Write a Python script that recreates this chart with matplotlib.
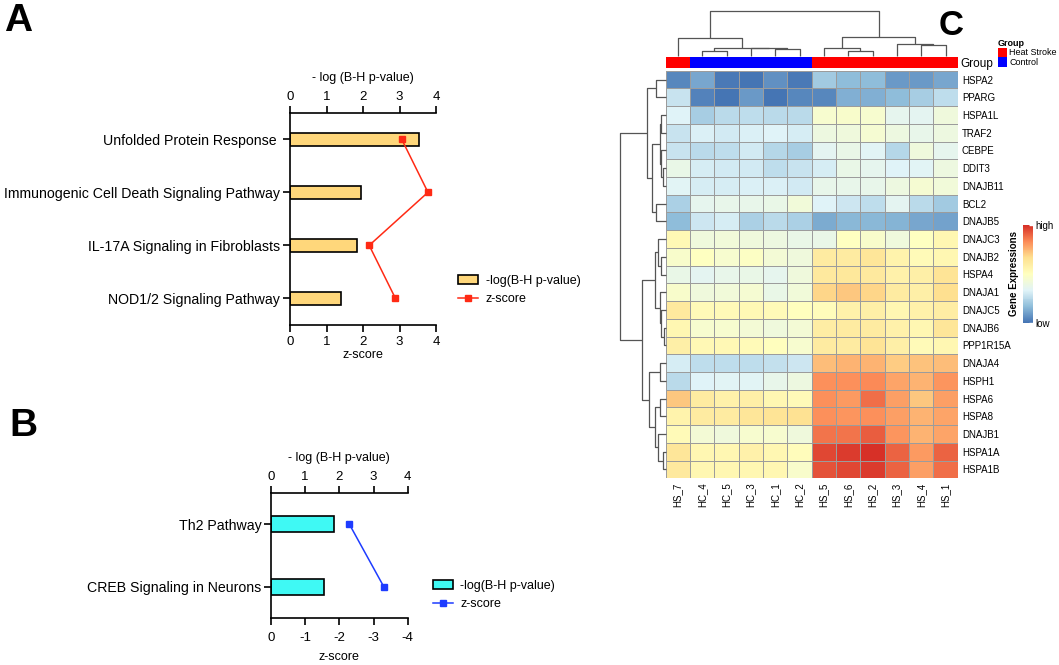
import matplotlib
matplotlib.use('Agg')
import matplotlib.pyplot as plt
import numpy as np
from matplotlib.colors import LinearSegmentedColormap, ListedColormap
from matplotlib.patches import Patch
from matplotlib.lines import Line2D

plt.rcParams['font.family'] = ['Liberation Sans', 'DejaVu Sans']
plt.rcParams['axes.unicode_minus'] = False

# ---------------- data: panel A ----------------
a_pathways = ['Unfolded Protein Response ', 'Immunogenic Cell Death Signaling Pathway',
              'IL-17A Signaling in Fibroblasts', 'NOD1/2 Signaling Pathway']
a_neglogp = [3.53, 1.95, 1.83, 1.39]
a_zscore = [3.06, 3.78, 2.17, 2.89]

# ---------------- data: panel B ----------------
b_pathways = ['Th2 Pathway', 'CREB Signaling in Neurons']
b_neglogp = [1.83, 1.54]
b_zscore = [-2.29, -3.30]

# ---------------- data: panel C ----------------
samples = ['HS_7', 'HC_4', 'HC_5', 'HC_3', 'HC_1', 'HC_2',
           'HS_5', 'HS_6', 'HS_2', 'HS_3', 'HS_4', 'HS_1']
sample_group = ['Heat Stroke', 'Control', 'Control', 'Control', 'Control', 'Control',
                'Heat Stroke', 'Heat Stroke', 'Heat Stroke', 'Heat Stroke', 'Heat Stroke', 'Heat Stroke']
genes = ['HSPA2', 'PPARG', 'HSPA1L', 'TRAF2', 'CEBPE', 'DDIT3', 'DNAJB11', 'BCL2', 'DNAJB5',
         'DNAJC3', 'DNAJB2', 'HSPA4', 'DNAJA1', 'DNAJC5', 'DNAJB6', 'PPP1R15A', 'DNAJA4',
         'HSPH1', 'HSPA6', 'HSPA8', 'DNAJB1', 'HSPA1A', 'HSPA1B']
expr = [
    [-2.7, -2.3, -2.9, -3.0, -2.6, -2.9, -1.8, -2.0, -2.0, -2.5, -2.5, -2.3],
    [-1.3, -2.8, -3.0, -2.5, -3.0, -2.7, -2.7, -2.2, -2.2, -2.0, -1.7, -1.4],
    [-1.0, -1.7, -1.5, -1.4, -1.5, -1.45, -0.3, -0.2, -0.3, -0.8, -0.9, -0.5],
    [-1.3, -1.05, -1.2, -1.05, -1.0, -1.1, -0.6, -0.5, -0.35, -0.6, -0.75, -0.6],
    [-1.3, -1.5, -1.4, -1.2, -1.55, -1.7, -0.9, -0.7, -0.95, -1.55, -0.5, -0.8],
    [-0.7, -1.1, -1.15, -1.2, -1.4, -1.3, -1.1, -0.7, -0.8, -1.0, -0.95, -0.6],
    [-0.95, -1.1, -1.1, -1.05, -1.05, -1.15, -0.75, -0.75, -0.75, -0.6, -0.35, -0.45],
    [-1.65, -0.8, -0.75, -0.75, -0.7, -0.45, -1.0, -1.25, -1.4, -0.9, -1.5, -1.8],
    [-2.0, -1.25, -1.1, -1.65, -1.45, -1.65, -2.25, -2.1, -2.05, -2.15, -2.3, -2.35],
    [0.2, -0.5, -0.45, -0.5, -0.6, -0.7, -0.7, -0.05, -0.2, -0.5, -0.05, 0.25],
    [-0.2, -0.05, -0.3, -0.1, -0.4, -0.5, 0.6, 0.6, 0.8, 0.4, 0.15, 0.3],
    [-0.7, -0.85, -0.75, -0.7, -0.8, -0.5, 0.7, 0.75, 0.7, 0.45, 0.5, 0.85],
    [-0.2, -0.5, -0.45, -0.35, -0.7, -0.45, 1.1, 1.3, 1.1, 0.6, 0.5, 1.0],
    [0.7, 0.15, 0.15, 0.2, 0.15, 0.05, 0.1, 0.45, 0.5, 0.25, 0.45, 0.55],
    [0.3, -0.3, -0.3, -0.4, -0.5, -0.4, 0.55, 0.65, 0.6, 0.45, 0.3, 0.8],
    [0.5, 0.2, 0.2, 0.15, 0.05, -0.3, 0.65, 0.65, 0.85, 0.5, 0.15, 0.3],
    [-1.1, -1.4, -1.4, -1.4, -1.35, -1.25, 1.4, 1.5, 1.5, 1.2, 1.35, 1.4],
    [-1.45, -1.0, -0.95, -0.95, -0.75, -0.6, 1.95, 1.95, 2.0, 1.7, 1.5, 1.9],
    [1.3, 0.6, 0.45, 0.5, 0.3, 0.15, 1.95, 1.85, 2.3, 1.75, 1.3, 1.75],
    [0.4, 0.65, 0.65, 0.8, 0.85, 0.9, 1.95, 1.9, 1.95, 1.75, 1.5, 1.7],
    [0.15, -0.4, -0.5, -0.3, -0.3, -0.5, 2.25, 2.25, 2.5, 1.9, 1.55, 1.7],
    [0.8, 0.3, 0.3, 0.45, 0.3, 0.1, 2.75, 2.85, 3.0, 2.45, 1.8, 2.4],
    [0.7, 0.25, 0.25, 0.25, 0.3, -0.2, 2.6, 2.75, 2.85, 2.4, 1.75, 2.3],
]
# hierarchical clustering merges: (child, child, distance); ints refer to earlier merges
col_merges = [('HC_4', 'HC_5', 1.5), ('HC_1', 'HC_2', 1.9), ('HC_3', 1, 2.2), (0, 2, 2.4),
              ('HS_7', 3, 5.4), ('HS_6', 'HS_2', 1.4), ('HS_5', 5, 2.4), ('HS_4', 'HS_1', 3.2),
              ('HS_3', 7, 3.4), (6, 8, 5.5), (4, 9, 13.4)]
row_merges = [('HSPA2', 'PPARG', 2.8), ('HSPA1L', 'TRAF2', 1.3), ('DDIT3', 'DNAJB11', 0.8),
              ('CEBPE', 2, 1.4), (1, 3, 1.8), ('BCL2', 'DNAJB5', 2.8), (4, 5, 4.1), (0, 6, 5.6),
              ('DNAJB2', 'HSPA4', 1.3), ('DNAJC3', 8, 2.3), ('DNAJB6', 'PPP1R15A', 0.6),
              ('DNAJC5', 10, 1.4), ('DNAJA1', 11, 1.6), (9, 12, 3.1), ('DNAJA4', 'HSPH1', 1.6),
              ('HSPA6', 'HSPA8', 1.6), ('HSPA1A', 'HSPA1B', 0.9), ('DNAJB1', 16, 2.4),
              (15, 17, 3.3), (14, 18, 5.1), (13, 19, 7.1), (7, 20, 13.6)]

W, H = 1059, 665
fig = plt.figure(figsize=(W / 100, H / 100), dpi=100)


def ax_px(l, t, r, b, **kw):
    return fig.add_axes([l / W, 1 - b / H, (r - l) / W, (b - t) / H], **kw)


def pathway_panel(rect, cats, logp, z, bar_color, line_color, zlim, legend_anchor, zpad, zlabelpad):
    ax = ax_px(*rect)
    ax2 = ax.twiny()
    y = np.arange(len(cats))
    ax.barh(y, logp, height=0.25, color=bar_color, edgecolor='black', linewidth=1.2, zorder=2)
    ax.set_ylim(len(cats) - 0.5, -0.5)
    ax.set_xlim(0, 4)
    ax.set_yticks(y)
    ax.set_yticklabels(cats)
    ax.xaxis.set_ticks_position('top')
    ax.xaxis.set_label_position('top')
    ax.set_xticks(range(5))
    ax.set_xlabel('- log (B-H p-value)', fontsize=9, labelpad=7)
    for s in ['right', 'bottom']:
        ax.spines[s].set_visible(False)
    for s in ['top', 'left']:
        ax.spines[s].set_linewidth(1.2)
    ax.tick_params(axis='x', width=1.2, length=5, labelsize=9.5, pad=2)
    ax.tick_params(axis='y', width=1.2, length=5, labelsize=10.2, pad=2)

    ax2.set_xlim(*zlim)
    ax2.plot(z, y, marker='s', color=line_color, ms=4.5, lw=1.1, zorder=3)
    ax2.xaxis.set_ticks_position('bottom')
    ax2.xaxis.set_label_position('bottom')
    ax2.set_xticks(np.linspace(zlim[0], zlim[1], 5))
    ax2.set_xlabel('z-score', fontsize=9, labelpad=zlabelpad)
    for s in ['right', 'top', 'left']:
        ax2.spines[s].set_visible(False)
    ax2.spines['bottom'].set_linewidth(1.2)
    ax2.tick_params(axis='x', width=1.2, length=5, labelsize=9.5, pad=zpad)
    handles = [Patch(facecolor=bar_color, edgecolor='black', linewidth=1.2),
               Line2D([0], [0], color=line_color, marker='s', ms=4.5, lw=1.1)]
    fig.legend(handles, ['-log(B-H p-value)', 'z-score'], loc='center left',
               bbox_to_anchor=(legend_anchor[0] / W, 1 - legend_anchor[1] / H), frameon=False,
               fontsize=9, handlelength=1.6, handletextpad=0.6, labelspacing=0.5,
               borderpad=0, borderaxespad=0)
    return ax


pathway_panel((290, 112.7, 436, 325), a_pathways, a_neglogp, a_zscore, '#FFD77B', '#FF2A14',
              (0, 4), (458, 290), 3, 1)
pathway_panel((271, 492.7, 407.7, 618), b_pathways, b_neglogp, b_zscore, '#3FF9F4', '#1E3CFF',
              (0, -4), (433, 595), 5, 5)

fig.text(4 / W, 1 - 31 / H, 'A', fontsize=28, weight='bold', va='baseline', ha='left')
fig.text(9 / W, 1 - 436 / H, 'B', fontsize=28, weight='bold', va='baseline', ha='left')
fig.text(939 / W, 1 - 35 / H, 'C', fontsize=25, weight='bold', va='baseline', ha='left')

# ---------------- heatmap ----------------
pheat_cols = ['#4575B4', '#91BFDB', '#E0F3F8', '#FFFFBF', '#FEE090', '#FC8D59', '#D73027']
cmap = LinearSegmentedColormap.from_list('pheatmap', pheat_cols, N=100)
L, R, T, B = 665.7, 957.7, 70.7, 478.3
hm = ax_px(L, T, R, B)
data = np.array(expr)
mesh = hm.pcolormesh(data, cmap=cmap, vmin=-3, vmax=3, edgecolors='#9c9c9c', linewidth=0.7)
hm.set_xlim(0, len(samples))
hm.set_ylim(len(genes), 0)
hm.set_xticks(np.arange(len(samples)) + 0.5)
hm.set_xticklabels(samples, rotation=90, fontsize=7)
hm.yaxis.tick_right()
hm.set_yticks(np.arange(len(genes)) + 0.5)
hm.set_yticklabels(genes, fontsize=7)
hm.tick_params(length=0, pad=3)
for s in hm.spines.values():
    s.set_visible(False)

# annotation bar
ann = ax_px(L, 56.7, R, 68.3)
gcode = np.array([[1 if g == 'Heat Stroke' else 0 for g in sample_group]])
ann.pcolormesh(gcode, cmap=ListedColormap(['#0000FF', '#FF0000']), vmin=0, vmax=1)
ann.set_xlim(0, len(samples))
ann.set_xticks([])
ann.yaxis.tick_right()
ann.set_yticks([0.5])
ann.set_yticklabels(['Group'], fontsize=8.5)
ann.tick_params(length=0, pad=2)
for s in ann.spines.values():
    s.set_visible(False)


def draw_dendro(ax, order, merges, orientation):
    pos = {name: i + 0.5 for i, name in enumerate(order)}
    hgt = {name: 0.0 for name in order}
    for k, (a, b, h) in enumerate(merges):
        pa, pb = pos[a], pos[b]
        ha, hb = hgt[a], hgt[b]
        xs = [pa, pa, pb, pb]
        ys = [ha, h, h, hb]
        if orientation == 'top':
            ax.plot(xs, ys, color='#555555', lw=0.9, clip_on=False, solid_capstyle='butt')
        else:
            ax.plot(ys, xs, color='#555555', lw=0.9, clip_on=False, solid_capstyle='butt')
        pos[k] = (pa + pb) / 2
        hgt[k] = h
    ax.axis('off')


cd = ax_px(L, 11, R, 55.7)
draw_dendro(cd, samples, col_merges, 'top')
cd.set_xlim(0, len(samples))
cd.set_ylim(0, col_merges[-1][2])

rd = ax_px(620.3, T, L, B)
draw_dendro(rd, genes, row_merges, 'left')
rd.set_ylim(len(genes), 0)
rd.set_xlim(row_merges[-1][2], 0)

# group legend
gh = [Patch(facecolor='#FF0000'), Patch(facecolor='#0000FF')]
fig.legend(gh, ['Heat Stroke', 'Control'], loc='upper left',
           bbox_to_anchor=(998 / W, 1 - 38.5 / H), frameon=False, fontsize=6.5,
           title='Group', title_fontproperties={'weight': 'bold', 'size': 6.5},
           alignment='left', handlelength=0.95, handleheight=1.3, handletextpad=0.3,
           labelspacing=0.0, borderpad=0, borderaxespad=0)

# colour legend
cax = ax_px(1023, 225, 1033, 323)
cb = fig.colorbar(mesh, cax=cax)
cb.outline.set_visible(False)
cb.set_ticks([-3, 3])
cb.set_ticklabels(['low', 'high'])
cax.tick_params(axis='y', color='white', direction='in', length=3, width=1, labelsize=7, pad=2)
cax.yaxis.set_label_position('left')
cb.set_label('Gene Expressions', fontsize=7, weight='bold', labelpad=3)

fig.savefig('out.png', dpi=100)
